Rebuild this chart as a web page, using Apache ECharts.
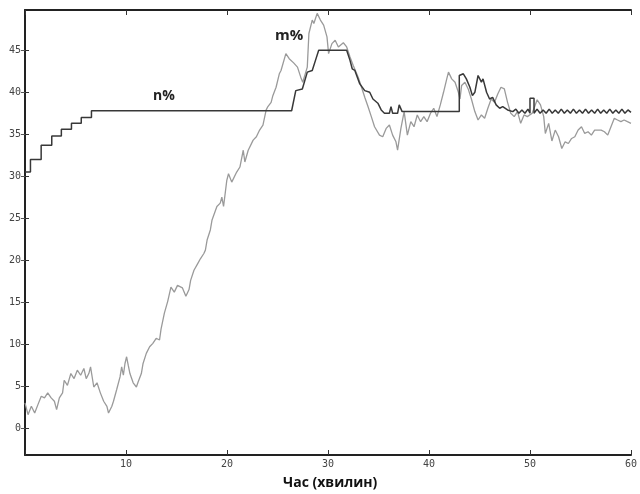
<!DOCTYPE html>
<html>
<head>
<meta charset="utf-8">
<script src="https://cdn.jsdelivr.net/npm/echarts@6/dist/echarts.min.js"></script>
<style>html,body{margin:0;padding:0;background:#fff}#c{width:640px;height:494px}</style>
</head>
<body>
<div id="c"></div>
<script>
// Time (minutes) and values for the noisy m% curve (grey)
const mTime = [0,0.3,0.63,0.96,1.28,1.61,1.93,2.25,2.59,2.91,3.13,3.4,3.72,3.88,4.2,4.54,4.86,5.18,5.51,5.83,6.06,6.32,6.49,6.81,7.13,7.46,7.79,8.11,8.27,8.6,8.76,9.08,9.41,9.57,9.74,9.9,10.06,10.22,10.39,10.71,11.03,11.2,11.52,11.69,12.01,12.34,12.66,12.99,13.32,13.47,13.8,14.13,14.45,14.78,15.1,15.59,15.93,16.24,16.4,16.73,17.1,17.38,17.71,17.86,18.03,18.35,18.52,19.0,19.33,19.49,19.66,19.98,20.15,20.47,20.96,21.28,21.61,21.77,22.1,22.59,22.91,23.23,23.56,23.88,24.05,24.37,24.54,24.86,25.18,25.35,25.83,26.16,26.32,26.6,26.98,27.3,27.5,27.95,28.11,28.44,28.6,28.93,29.25,29.57,29.9,30.06,30.39,30.71,31.03,31.52,31.85,32.18,32.5,32.99,33.32,33.64,33.96,34.29,34.61,35.1,35.42,35.76,36.08,36.4,36.73,36.89,37.22,37.54,37.86,38.2,38.52,38.84,39.17,39.49,39.81,40.15,40.47,40.79,41.12,41.44,41.76,41.93,42.25,42.58,42.91,43.07,43.23,43.56,43.88,44.2,44.54,44.86,45.19,45.51,45.83,46.16,46.49,46.81,47.13,47.46,47.78,48.1,48.44,48.76,49.08,49.41,49.74,50.22,50.71,51.04,51.36,51.52,51.85,52.17,52.5,52.83,53.15,53.48,53.8,54.12,54.44,54.77,55.1,55.42,55.75,56.08,56.4,56.73,57.05,57.37,57.7,58.02,58.35,58.67,59.0,59.32,59.65,60];
const mValue = [3.0,1.6,2.6,1.8,2.8,3.8,3.6,4.2,3.6,3.2,2.2,3.6,4.2,5.7,5.1,6.5,5.9,6.9,6.3,7.1,5.9,6.5,7.3,4.9,5.4,4.2,3.2,2.6,1.8,2.6,3.2,4.6,6.1,7.3,6.3,7.7,8.5,7.5,6.5,5.4,4.9,5.5,6.5,7.7,8.9,9.7,10.1,10.7,10.5,11.8,13.7,15.1,16.8,16.2,17.0,16.7,15.7,16.5,17.6,18.8,19.6,20.2,20.8,21.2,22.4,23.6,24.8,26.4,26.8,27.5,26.4,29.5,30.3,29.3,30.5,31.1,33.1,31.7,33.1,34.3,34.7,35.5,36.1,37.9,38.3,38.8,39.6,40.6,42.2,42.6,44.6,44.0,44.0,43.5,43.0,41.8,41.2,43.0,47.0,48.6,48.2,49.4,48.6,48.0,46.6,44.6,45.8,46.2,45.4,45.9,45.4,44.2,43.2,41.8,40.6,39.4,38.3,37.1,35.9,34.9,34.7,35.7,36.1,34.9,34.1,33.1,35.7,37.7,34.9,36.5,35.9,37.3,36.5,37.1,36.5,37.5,38.1,37.1,38.5,40.0,41.6,42.4,41.6,41.2,40.0,39.2,40.8,41.2,40.4,39.2,37.7,36.7,37.3,36.9,38.1,39.2,38.8,39.8,40.6,40.4,38.8,37.5,37.1,37.7,36.3,37.3,37.1,37.5,39.1,38.5,37.1,35.1,36.3,34.2,35.5,34.7,33.3,34.1,33.9,34.5,34.7,35.5,35.9,35.1,35.3,34.9,35.5,35.5,35.5,35.3,34.9,35.9,36.9,36.7,36.5,36.7,36.5,36.3];

// Time (minutes) and values for the stepped n% curve (dark)
const nTime = [0,0.54,0.54,1.6,1.6,2.65,2.65,3.6,3.6,4.6,4.6,5.57,5.57,6.58,6.58,26.4,26.81,27.46,27.95,28.44,28.76,29.08,31.85,32.18,32.4,32.66,33.15,33.64,34.13,34.45,34.94,35.27,35.59,36.08,36.24,36.4,36.89,37.05,37.34,43.0,43.0,43.4,43.7,44.05,44.3,44.54,44.86,45.19,45.35,45.7,46.0,46.3,46.65,47.0,47.3,47.78,48.3,48.6,48.9,49.2,49.5,49.8,50.0,50.0,50.4,50.4,50.7,51.0,51.3,51.6,51.9,52.2,52.5,52.8,53.1,53.4,53.7,54.0,54.3,54.6,54.9,55.2,55.5,55.8,56.1,56.4,56.7,57.0,57.3,57.6,57.9,58.2,58.5,58.8,59.1,59.4,59.7,60];
const nValue = [30.5,30.5,32.0,32.0,33.7,33.7,34.8,34.8,35.6,35.6,36.3,36.3,37.0,37.0,37.8,37.8,40.2,40.4,42.4,42.6,43.8,45.0,45.0,43.8,42.8,42.6,41.0,40.2,40.0,39.2,38.7,37.9,37.5,37.5,38.3,37.5,37.5,38.5,37.7,37.7,42.0,42.2,41.6,40.6,39.6,40.0,42.0,41.2,41.6,40.0,39.2,39.4,38.5,38.1,38.3,37.9,37.7,38.0,37.5,37.9,37.5,38.0,37.5,39.3,39.3,37.5,38.0,37.5,37.9,37.5,38.0,37.5,37.9,37.5,38.0,37.5,37.9,37.5,38.0,37.5,37.9,37.5,38.0,37.5,37.9,37.5,38.0,37.5,37.9,37.5,38.0,37.5,37.9,37.5,38.0,37.5,37.9,37.6];

const xTicks = [0,10,20,30,40,50,60];
const yTicks = [0,5,10,15,20,25,30,35,40,45];

const mData = mTime.map((t,i)=>[t,mValue[i]]);
const nData = nTime.map((t,i)=>[t,nValue[i]]);

const chart = echarts.init(document.getElementById('c'), null, {renderer:'canvas'});
const labelFont = {fontFamily:'DejaVu Sans Mono', fontSize:10, color:'#444'};
chart.setOption({
  animation:false,
  backgroundColor:'#fff',
  grid:{left:25, right:1, top:10, bottom:39},
  xAxis:[
    {type:'value', min:0, max:60, interval:10, position:'bottom',
     axisLine:{show:true, onZero:false, lineStyle:{color:'#222', width:2}},
     axisTick:{show:true, inside:true, length:5, lineStyle:{color:'#333'}},
     axisLabel:Object.assign({margin:4, formatter:v=>v===0?'':String(v), showMaxLabel:true}, labelFont),
     splitLine:{show:false}},
    {type:'value', min:0, max:60, interval:10, position:'top',
     axisLine:{show:true, onZero:false, lineStyle:{color:'#222', width:2}},
     axisTick:{show:true, inside:true, length:5, lineStyle:{color:'#333'}},
     axisLabel:{show:false}, splitLine:{show:false}}
  ],
  yAxis:[
    {type:'value', min:-3.2, max:49.8, position:'left',
     axisLine:{show:true, onZero:false, lineStyle:{color:'#222', width:2}},
     axisTick:{show:true, inside:true, length:4, customValues:yTicks, lineStyle:{color:'#333'}},
     axisLabel:Object.assign({margin:4, customValues:yTicks}, labelFont),
     splitLine:{show:false}},
    {type:'value', min:-3.2, max:49.8, position:'right',
     axisLine:{show:false},
     axisTick:{show:true, inside:true, length:4, customValues:yTicks, lineStyle:{color:'#555'}},
     axisLabel:{show:false}, splitLine:{show:false}}
  ],
  series:[
    {name:'m%', type:'line', data:mData, showSymbol:false, symbol:'none',
     lineStyle:{color:'#9a9a9a', width:1.3}, z:2},
    {name:'n%', type:'line', data:nData, showSymbol:false, symbol:'none',
     lineStyle:{color:'#383838', width:1.5}, z:3}
  ],
  graphic:[
    {type:'text', left:153, top:89, style:{text:'n%', font:'bold 14px "Open Sans"', fill:'#222'}},
    {type:'text', left:275, top:28, style:{text:'m%', font:'bold 15px "Open Sans"', fill:'#222'}},
    {type:'text', left:283, top:476, style:{text:'Час (хвилин)', font:'bold 14px "Open Sans"', fill:'#111'}}
  ]
});
</script>
</body>
</html>
